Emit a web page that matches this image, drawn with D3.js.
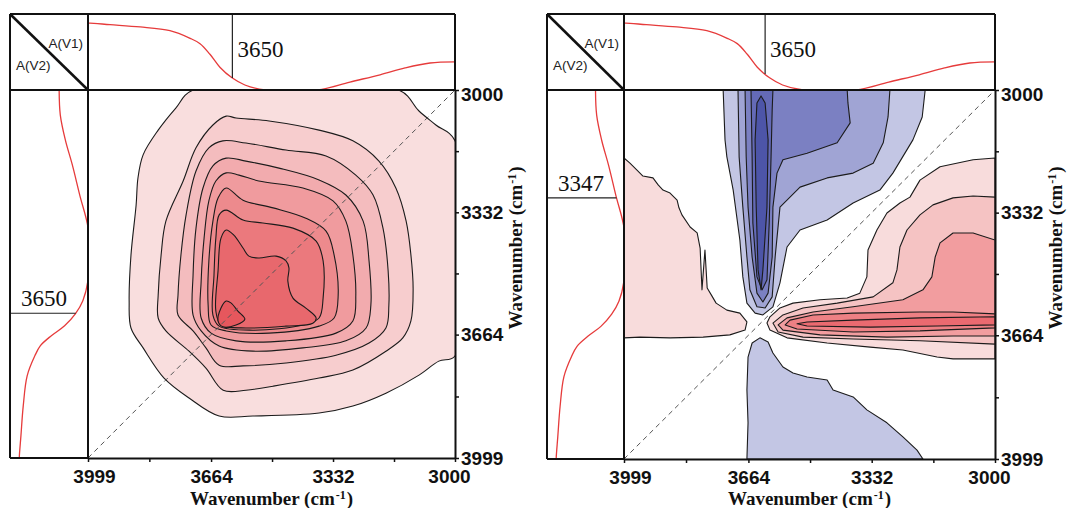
<!DOCTYPE html>
<html>
<head>
<meta charset="utf-8">
<script src="https://cdn.jsdelivr.net/npm/d3@7"></script>
<style>
  body { margin: 0; background: #fff; }
  svg { display: block; }
  .marker-label { font-family: "Liberation Serif", "Times New Roman", serif; font-size: 23px; fill: #111; }
  .corner-label { font-family: "Liberation Sans", Arial, sans-serif; font-size: 13.5px; fill: #222; }
  .axis-title { font-family: "Liberation Serif", "Times New Roman", serif; font-weight: bold; font-size: 19px; fill: #111; }
</style>
</head>
<body>
<script>
// wavenumber ticks (cm-1)
const tickValues = [3999, 3664, 3332, 3000];
const minorTickValues = [3832, 3498, 3166];

// 1D spectrum drawn in the top and side strips (normalised absorbance)
const spectrumWn = [3999, 3994, 3939, 3857, 3776, 3721, 3694, 3667, 3640, 3607, 3572, 3517, 3449, 3373, 3286, 3204, 3136, 3068, 3000];
const spectrumAbs = [0.88, 0.88, 0.86, 0.83, 0.78, 0.68, 0.61, 0.47, 0.30, 0.16, 0.066, 0.0, -0.01, 0.0, 0.105, 0.20, 0.29, 0.355, 0.37];

// reference lines in the strips: [top strip, side strip]
const syncMarkers = [3606, 3606];
const syncMarkerLabels = ["3650", "3650"];
const asyncMarkers = [3619, 3292];
const asyncMarkerLabels = ["3650", "3347"];

// synchronous map, contour levels from outside in: [v1, v2] points
const syncLevel1 = [[3713,3000],[3760,3049],[3808,3109],[3849,3176],[3863,3239],[3868,3312],[3882,3448],[3887,3573],[3882,3646],[3849,3700],[3792,3782],[3724,3836],[3642,3885],[3550,3885],[3370,3877],[3278,3858],[3188,3823],[3098,3774],[3044,3736],[3000,3722],[3000,3138],[3052,3095],[3098,3057],[3153,3000]];
const syncLevel2 = [[3623,3071],[3659,3095],[3705,3157],[3740,3247],[3787,3356],[3800,3448],[3808,3557],[3808,3619],[3787,3654],[3724,3709],[3678,3755],[3631,3815],[3569,3815],[3495,3804],[3370,3782],[3278,3760],[3188,3709],[3142,3673],[3120,3627],[3114,3538],[3120,3448],[3133,3356],[3161,3266],[3207,3193],[3278,3138],[3370,3109],[3506,3084],[3596,3076]];
const syncLevel3 = [[3632,3138],[3670,3157],[3705,3220],[3732,3339],[3746,3448],[3754,3557],[3754,3611],[3713,3654],[3678,3700],[3642,3747],[3577,3749],[3460,3741],[3324,3720],[3234,3687],[3188,3646],[3180,3584],[3182,3491],[3196,3375],[3223,3285],[3270,3231],[3351,3179],[3460,3163],[3569,3144]];
const syncLevel4 = [[3623,3185],[3659,3206],[3686,3266],[3705,3375],[3713,3502],[3713,3611],[3691,3654],[3642,3695],[3550,3709],[3414,3700],[3297,3681],[3242,3646],[3229,3584],[3234,3464],[3250,3356],[3297,3285],[3370,3244],[3479,3212],[3569,3193]];
const syncLevel5 = [[3623,3225],[3651,3247],[3670,3301],[3683,3402],[3691,3519],[3691,3619],[3664,3660],[3596,3681],[3460,3681],[3324,3660],[3278,3627],[3270,3557],[3278,3448],[3297,3356],[3332,3301],[3414,3266],[3534,3247],[3588,3231]];
const syncLevel6 = [[3623,3266],[3645,3293],[3659,3356],[3670,3464],[3672,3584],[3664,3638],[3623,3654],[3506,3660],[3370,3641],[3329,3619],[3318,3557],[3329,3448],[3351,3383],[3406,3348],[3495,3320],[3577,3299]];
const syncLevel7 = [[3623,3326],[3642,3339],[3651,3402],[3656,3502],[3659,3611],[3642,3641],[3550,3652],[3414,3638],[3370,3619],[3359,3565],[3359,3464],[3378,3410],[3441,3375],[3523,3361],[3577,3353]];
const syncLevel8 = [[3623,3380],[3637,3402],[3645,3491],[3651,3600],[3637,3638],[3569,3646],[3460,3641],[3387,3633],[3378,3619],[3406,3592],[3441,3565],[3455,3519],[3452,3483],[3460,3464],[3487,3451],[3534,3456],[3561,3451],[3577,3429],[3602,3394]];
const syncLevel9 = [[3623,3573],[3637,3592],[3645,3627],[3632,3643],[3596,3638],[3572,3622],[3591,3600],[3610,3578]];

// asynchronous map, positive (red) regions
const asyncPosLeft = [[3999,3184],[3983,3198],[3964,3217],[3948,3233],[3921,3238],[3907,3257],[3894,3271],[3875,3279],[3856,3298],[3851,3319],[3843,3338],[3821,3371],[3802,3387],[3794,3428],[3789,3541],[3781,3433],[3775,3536],[3762,3558],[3751,3577],[3722,3596],[3687,3604],[3668,3628],[3673,3650],[3714,3663],[3786,3669],[3875,3671],[3956,3669],[3999,3671]];
const asyncPos1 = [[3000,3184],[3059,3189],[3148,3208],[3202,3244],[3229,3290],[3256,3306],[3291,3333],[3318,3379],[3342,3433],[3345,3506],[3364,3550],[3398,3563],[3471,3568],[3544,3577],[3579,3590],[3606,3614],[3614,3631],[3606,3650],[3560,3671],[3452,3685],[3336,3696],[3248,3704],[3156,3723],[3113,3728],[3000,3728]];
const asyncPos2 = [[3000,3290],[3059,3287],[3113,3292],[3167,3311],[3202,3338],[3237,3379],[3256,3425],[3264,3487],[3275,3522],[3328,3560],[3425,3577],[3517,3590],[3571,3609],[3598,3631],[3584,3655],[3517,3669],[3382,3674],[3202,3679],[3000,3688]];
const asyncPos3 = [[3000,3406],[3059,3387],[3113,3387],[3148,3414],[3161,3452],[3170,3506],[3194,3541],[3248,3568],[3382,3587],[3490,3601],[3560,3617],[3584,3636],[3571,3650],[3471,3663],[3291,3669],[3113,3666],[3000,3666]];
const asyncPos4 = [[3000,3606],[3113,3601],[3202,3601],[3382,3604],[3490,3609],[3552,3623],[3565,3636],[3533,3647],[3382,3655],[3202,3652],[3000,3644]];
const asyncPos5 = [[3000,3614],[3202,3617],[3382,3623],[3506,3628],[3533,3633],[3506,3639],[3336,3642],[3156,3639],[3000,3636]];

// asynchronous map, negative (blue) regions
const asyncNeg1 = [[3732,3000],[3727,3135],[3722,3181],[3705,3271],[3687,3406],[3679,3506],[3668,3577],[3646,3604],[3625,3609],[3598,3587],[3579,3522],[3560,3425],[3525,3379],[3452,3352],[3382,3306],[3310,3271],[3275,3225],[3221,3135],[3196,3073],[3188,3000]];
const asyncNeg2 = [[3692,3000],[3689,3181],[3679,3317],[3668,3452],[3660,3541],[3641,3587],[3619,3590],[3600,3560],[3592,3452],[3579,3317],[3525,3263],[3452,3238],[3382,3225],[3328,3198],[3301,3143],[3288,3073],[3283,3000]];
const asyncNeg3 = [[3673,3000],[3670,3181],[3665,3317],[3654,3452],[3641,3550],[3625,3574],[3611,3550],[3600,3452],[3598,3317],[3587,3225],[3571,3189],[3506,3171],[3425,3143],[3390,3089],[3396,3035],[3398,3000]];
const asyncNeg4 = [[3657,3000],[3654,3181],[3652,3360],[3641,3506],[3627,3541],[3614,3514],[3608,3360],[3603,3181],[3600,3054],[3598,3000]];
const asyncNeg5 = [[3641,3035],[3646,3135],[3643,3317],[3638,3487],[3630,3541],[3625,3487],[3614,3317],[3611,3135],[3619,3035],[3630,3016]];
const asyncNegLow = [[3668,3999],[3665,3901],[3668,3812],[3665,3723],[3654,3685],[3633,3671],[3611,3682],[3598,3712],[3571,3750],[3544,3766],[3506,3777],[3452,3785],[3436,3812],[3382,3831],[3345,3866],[3291,3901],[3248,3939],[3210,3975],[3194,3999]];

const width = 1067, height = 508;
const svg = d3.select("body").append("svg").attr("width", width).attr("height", height);

const posColors = ["#f8dcdc", "#f5c3c3", "#f29d9f", "#ee8084", "#eb6a70"];
const negColors = ["#c3c6e4", "#a0a4d4", "#7b80c2", "#646ab6", "#4d55a8"];
const syncFill = d3.interpolateRgb("#f9dede", "#e6575d");

// linear lookup of the spectrum at a wavenumber (spectrumWn runs high -> low)
function absAt(wn) {
  for (let i = 0; i < spectrumWn.length - 1; i++) {
    const a = spectrumWn[i], b = spectrumWn[i + 1];
    if (wn <= a && wn >= b) {
      const t = (a - wn) / (a - b);
      return spectrumAbs[i] + t * (spectrumAbs[i + 1] - spectrumAbs[i]);
    }
  }
  return 0;
}

function addClip(defs, id, x, y, w, h) {
  defs.append("clipPath").attr("id", id)
    .append("rect").attr("x", x).attr("y", y).attr("width", w).attr("height", h);
}

function drawPanel(id, box, regions, curve, markers, labels) {
  const g = svg.append("g");
  const x = d3.scaleLinear().domain([3999, 3000]).range([box.x0, box.x1]);
  const y = d3.scaleLinear().domain([3000, 3999]).range([box.y0, box.y1]);
  const topA = d3.scaleLinear().domain([0, 1]).range([box.y0, box.top]);
  const sideA = d3.scaleLinear().domain([0, 1]).range([box.x0, box.left]);

  const defs = g.append("defs");
  addClip(defs, id + "-main", box.x0, box.y0, box.x1 - box.x0, box.y1 - box.y0);
  addClip(defs, id + "-top", box.x0, box.top, box.x1 - box.x0, box.y0 - box.top);
  addClip(defs, id + "-side", box.left, box.y0, box.x0 - box.left, box.y1 - box.y0);

  // contour map
  const contour = d3.line().x(d => x(d[0])).y(d => y(d[1])).curve(curve);
  g.append("g").attr("clip-path", `url(#${id}-main)`)
    .selectAll("path").data(regions).join("path")
    .attr("d", d => contour(d.pts))
    .attr("fill", d => d.fill)
    .attr("stroke", "#1b1b1b")
    .attr("stroke-width", 1.1)
    .attr("stroke-linejoin", "round");

  // diagonal v1 = v2
  g.append("line")
    .attr("x1", x(3999)).attr("y1", y(3999))
    .attr("x2", x(3000)).attr("y2", y(3000))
    .attr("stroke", "#555").attr("stroke-width", 1)
    .attr("stroke-dasharray", "5,4");

  // 1D spectra
  const spec = d3.zip(spectrumWn, spectrumAbs);
  g.append("path")
    .attr("clip-path", `url(#${id}-top)`)
    .attr("d", d3.line().x(d => x(d[0])).y(d => topA(d[1])).curve(d3.curveCatmullRom)(spec))
    .attr("fill", "none").attr("stroke", "#e63b3b").attr("stroke-width", 1.3);
  g.append("path")
    .attr("clip-path", `url(#${id}-side)`)
    .attr("d", d3.line().x(d => sideA(d[1])).y(d => y(d[0])).curve(d3.curveCatmullRom)(spec))
    .attr("fill", "none").attr("stroke", "#e63b3b").attr("stroke-width", 1.3);

  // marker lines
  const topWn = markers[0], sideWn = markers[1];
  g.append("line")
    .attr("x1", x(topWn)).attr("x2", x(topWn))
    .attr("y1", box.top).attr("y2", topA(absAt(topWn)))
    .attr("stroke", "#222").attr("stroke-width", 1.2);
  g.append("text").attr("class", "marker-label")
    .attr("x", x(topWn) + 5).attr("y", box.top + 43).text(labels[0]);
  g.append("line")
    .attr("x1", box.left).attr("x2", sideA(absAt(sideWn)))
    .attr("y1", y(sideWn)).attr("y2", y(sideWn))
    .attr("stroke", "#222").attr("stroke-width", 1.2);
  g.append("text").attr("class", "marker-label")
    .attr("x", box.left + 11).attr("y", y(sideWn) - 7).text(labels[1]);

  // frame
  const frame = [
    [box.left, box.top, box.x1, box.top],
    [box.left, box.top, box.left, box.y1],
    [box.x0, box.top, box.x0, box.y1],
    [box.left, box.y0, box.x1, box.y0],
    [box.x1, box.top, box.x1, box.y0],
    [box.left, box.y1, box.x0, box.y1]
  ];
  g.append("g").selectAll("line").data(frame).join("line")
    .attr("x1", d => d[0]).attr("y1", d => d[1])
    .attr("x2", d => d[2]).attr("y2", d => d[3])
    .attr("stroke", "#111").attr("stroke-width", 2);

  // corner cell
  g.append("line")
    .attr("x1", box.left).attr("y1", box.top)
    .attr("x2", box.x0).attr("y2", box.y0)
    .attr("stroke", "#111").attr("stroke-width", 2.5);
  g.append("text").attr("class", "corner-label")
    .attr("x", box.x0 - 5).attr("y", box.top + 34)
    .attr("text-anchor", "end").text("A(V1)");
  g.append("text").attr("class", "corner-label")
    .attr("x", box.left + 6).attr("y", box.top + 56).text("A(V2)");

  // axes
  const styleAxis = sel => {
    sel.attr("font-family", "'Liberation Sans', Arial, sans-serif")
      .attr("font-size", 19).attr("font-weight", "bold");
    sel.selectAll("path.domain").attr("stroke", "#111").attr("stroke-width", 2);
    sel.selectAll(".tick line").attr("stroke", "#111").attr("stroke-width", 1.5);
    sel.selectAll(".tick text").attr("fill", "#111");
  };

  const xAxis = g.append("g").attr("transform", `translate(0,${box.y1})`)
    .call(d3.axisBottom(x).tickValues(tickValues).tickSize(4).tickSizeOuter(0).tickPadding(8).tickFormat(d3.format("d")))
    .call(styleAxis);
  xAxis.selectAll(".tick text").attr("dx", d => d === 3999 ? 6 : d === 3000 ? -6 : 0);
  g.append("g").attr("transform", `translate(0,${box.y1})`)
    .call(d3.axisBottom(x).tickValues(minorTickValues).tickSize(4).tickSizeOuter(0).tickFormat(""))
    .call(styleAxis)
    .select("path.domain").remove();

  const yAxis = g.append("g").attr("transform", `translate(${box.x1},0)`)
    .call(d3.axisRight(y).tickValues(tickValues).tickSize(4).tickSizeOuter(0).tickPadding(2).tickFormat(d3.format("d")))
    .call(styleAxis);
  yAxis.selectAll(".tick text").attr("dy", d => d === 3000 ? "0.55em" : "0.32em");
  g.append("g").attr("transform", `translate(${box.x1},0)`)
    .call(d3.axisRight(y).tickValues(minorTickValues).tickSize(4).tickSizeOuter(0).tickFormat(""))
    .call(styleAxis)
    .select("path.domain").remove();

  // axis titles
  const title = (sel) => {
    sel.append("tspan").text("Wavenumber (cm");
    sel.append("tspan").attr("font-size", 12).attr("dx", 1).attr("dy", -6).text("-1");
    sel.append("tspan").attr("dx", 1).attr("dy", 6).text(")");
  };
  g.append("text").attr("class", "axis-title")
    .attr("x", (box.x0 + box.x1) / 2).attr("y", 505)
    .attr("text-anchor", "middle").call(title);
  g.append("text").attr("class", "axis-title")
    .attr("transform", `translate(${box.x1 + 67},248) rotate(-90)`)
    .attr("text-anchor", "middle").call(title);
}

const syncBox = { left: 10, top: 14, x0: 88, x1: 455, y0: 90, y1: 458 };
const asyncBox = { left: 547, top: 14, x0: 624, x1: 995, y0: 90, y1: 459 };

const syncLevels = [syncLevel1, syncLevel2, syncLevel3, syncLevel4, syncLevel5, syncLevel6, syncLevel7, syncLevel8, syncLevel9];
const syncRegions = syncLevels.map((pts, i) => ({ pts, fill: syncFill(i / (syncLevels.length - 1)) }));

const asyncRegions = [
  { pts: asyncPosLeft, fill: posColors[0] },
  { pts: asyncPos1, fill: posColors[0] },
  { pts: asyncPos2, fill: posColors[1] },
  { pts: asyncPos3, fill: posColors[2] },
  { pts: asyncPos4, fill: posColors[3] },
  { pts: asyncPos5, fill: posColors[4] },
  { pts: asyncNeg1, fill: negColors[0] },
  { pts: asyncNeg2, fill: negColors[1] },
  { pts: asyncNeg3, fill: negColors[2] },
  { pts: asyncNeg4, fill: negColors[3] },
  { pts: asyncNeg5, fill: negColors[4] },
  { pts: asyncNegLow, fill: negColors[0] }
];

drawPanel("sync", syncBox, syncRegions, d3.curveCatmullRomClosed, syncMarkers, syncMarkerLabels);
drawPanel("async", asyncBox, asyncRegions, d3.curveLinearClosed, asyncMarkers, asyncMarkerLabels);
</script>
</body>
</html>
